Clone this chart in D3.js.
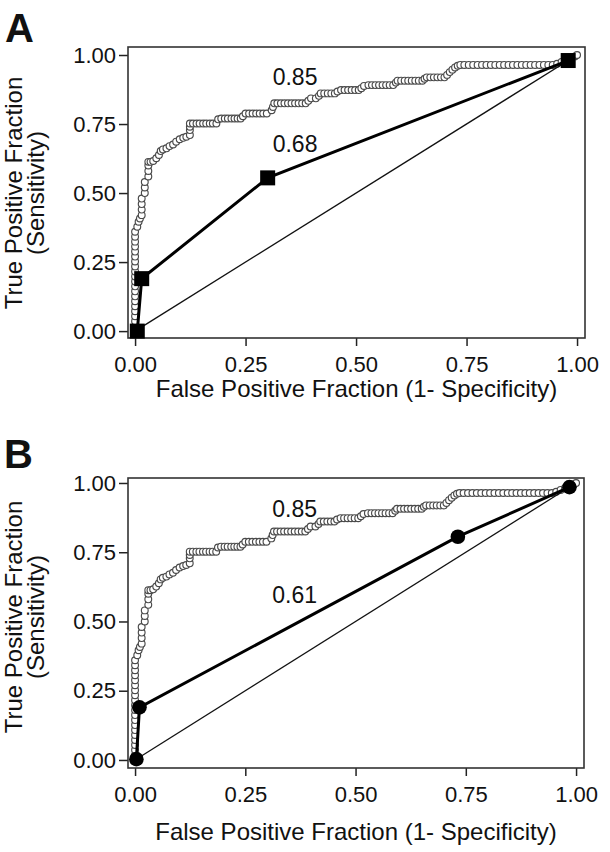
<!DOCTYPE html>
<html><head><meta charset="utf-8">
<script src="https://cdn.jsdelivr.net/npm/d3@7"></script>
<style>body{margin:0;background:#fff} svg{display:block}</style>
</head><body>
<svg id="c" width="610" height="852"></svg>
<script>
// ---------------- data ----------------
const xTicks = [0, 0.25, 0.5, 0.75, 1];
const yTicks = [0, 0.25, 0.5, 0.75, 1];
const panelLetters = ["A", "B"];

const rocEmpirical = [
  [0,0],[0,0.018],[0,0.036],[0,0.054],[0,0.072],[0,0.09],[0,0.108],[0,0.126],[0,0.144],[0,0.162],
  [0,0.18],[0,0.198],[0,0.216],[0,0.234],[0,0.252],[0,0.27],[0,0.288],[0,0.306],[0,0.324],[0,0.342],[0,0.36],
  [0.005,0.378],[0.008,0.396],[0.011,0.408],
  [0.015,0.42],[0.015,0.44],[0.015,0.46],[0.015,0.48],
  [0.022,0.50],[0.022,0.52],[0.022,0.54],
  [0.03,0.56],[0.03,0.58],[0.03,0.60],[0.03,0.613],[0.035,0.613],
  [0.041,0.616],[0.048,0.626],[0.054,0.638],[0.058,0.652],[0.063,0.658],[0.071,0.662],[0.078,0.670],
  [0.086,0.676],[0.093,0.686],[0.101,0.695],[0.109,0.700],[0.116,0.704],[0.124,0.710],[0.124,0.728],[0.124,0.740],
  [0.124,0.752],[0.131,0.752],[0.139,0.752],[0.146,0.752],[0.154,0.752],[0.161,0.752],[0.169,0.752],[0.176,0.752],[0.184,0.752],
  [0.188,0.767],
  [0.195,0.770],[0.203,0.770],[0.210,0.770],[0.218,0.770],[0.225,0.770],[0.232,0.770],[0.239,0.770],
  [0.244,0.778],
  [0.250,0.788],[0.258,0.788],[0.266,0.788],[0.274,0.788],[0.282,0.788],[0.290,0.788],[0.298,0.788],
  [0.309,0.800],[0.312,0.812],[0.315,0.825],
  [0.322,0.825],[0.330,0.825],[0.338,0.825],[0.346,0.825],[0.354,0.825],[0.362,0.825],[0.370,0.825],[0.378,0.825],[0.386,0.825],
  [0.392,0.834],[0.398,0.843],[0.409,0.843],[0.416,0.852],[0.420,0.861],
  [0.428,0.861],[0.436,0.861],[0.444,0.861],[0.452,0.861],
  [0.458,0.868],
  [0.466,0.873],[0.474,0.873],[0.482,0.873],[0.490,0.873],[0.498,0.873],[0.506,0.873],
  [0.512,0.880],[0.518,0.888],
  [0.528,0.891],[0.536,0.891],[0.544,0.891],[0.552,0.891],[0.560,0.891],[0.568,0.891],[0.576,0.891],[0.584,0.891],
  [0.590,0.900],[0.594,0.907],
  [0.602,0.907],[0.610,0.907],[0.618,0.907],[0.626,0.907],[0.634,0.907],[0.642,0.907],[0.650,0.907],
  [0.655,0.914],[0.660,0.919],
  [0.668,0.919],[0.676,0.919],[0.684,0.919],[0.692,0.919],[0.700,0.919],
  [0.706,0.928],[0.712,0.938],[0.718,0.947],[0.724,0.955],[0.730,0.961],[0.736,0.964],
  [0.745,0.964],[0.755,0.964],[0.765,0.964],[0.775,0.964],[0.785,0.964],[0.795,0.964],[0.805,0.964],
  [0.815,0.964],[0.825,0.964],[0.835,0.964],[0.845,0.964],[0.855,0.964],[0.865,0.964],[0.875,0.964],
  [0.885,0.964],[0.895,0.964],[0.905,0.964],[0.915,0.964],[0.925,0.964],[0.935,0.964],[0.945,0.964],
  [0.955,0.968],[0.965,0.975],[0.975,0.982],[0.985,0.990],[0.995,0.995],[1.0,1.0]
];

// model ROC points
const modelA_FPF = [0.005, 0.015, 0.30, 0.98];
const modelA_TPF = [0.0, 0.19, 0.555, 0.98];
const modelB_FPF = [0.003, 0.01, 0.732, 0.985];
const modelB_TPF = [0.003, 0.19, 0.806, 0.985];

// chance diagonal
const chanceFPF = [0, 0.98];
const chanceTPF = [0, 0.98];

// AUC labels
const aucLabelsA = ["0.85", "0.68"];
const aucLabelsB = ["0.85", "0.61"];

// ---------------- drawing ----------------
const FONT = "'Liberation Sans', Arial, Helvetica, sans-serif";
const svg = d3.select("#c");

function drawPanel(cfg) {
  const x = d3.scaleLinear().domain(cfg.xDom).range([cfg.left, cfg.right]);
  const y = d3.scaleLinear().domain(cfg.yDom).range([cfg.bottom, cfg.top]);
  const g = svg.append("g");

  // axes
  const fmt = d3.format(".2f");
  const yAx = g.append("g").attr("transform", `translate(${cfg.left},0)`)
    .call(d3.axisLeft(y).tickValues(yTicks).tickFormat(fmt).tickSize(9).tickPadding(3).tickSizeOuter(0));
  const xAx = g.append("g").attr("transform", `translate(0,${cfg.bottom})`)
    .call(d3.axisBottom(x).tickValues(xTicks).tickFormat(fmt).tickSize(8).tickPadding(10).tickSizeOuter(0));
  [yAx, xAx].forEach(a => {
    a.select(".domain").remove();
    a.selectAll(".tick line").attr("stroke", "#222").attr("stroke-width", 1.5);
    a.selectAll(".tick text").attr("fill", "#111").style("font-family", FONT).style("font-size", "22px");
  });

  // frame
  g.append("rect").attr("x", cfg.left).attr("y", cfg.top)
    .attr("width", cfg.right - cfg.left).attr("height", cfg.bottom - cfg.top)
    .attr("fill", "none").attr("stroke", "#333").attr("stroke-width", 1.6);

  // empirical ROC circles
  g.append("g").selectAll("circle").data(rocEmpirical).join("circle")
    .attr("cx", d => x(d[0])).attr("cy", d => y(d[1])).attr("r", 3.4)
    .attr("fill", "#fff").attr("stroke", "#4a4a4a").attr("stroke-width", 1.15);

  // chance line
  const line = d3.line().x(d => x(d[0])).y(d => y(d[1]));
  g.append("path").datum(d3.zip(chanceFPF, chanceTPF)).attr("d", line)
    .attr("fill", "none").attr("stroke", "#111").attr("stroke-width", 1.3);

  // model line
  const pts = d3.zip(cfg.fpf, cfg.tpf);
  g.append("path").datum(pts).attr("d", line)
    .attr("fill", "none").attr("stroke", "#000").attr("stroke-width", 3);
  if (cfg.marker === "square") {
    g.append("g").selectAll("rect").data(pts).join("rect")
      .attr("x", d => x(d[0]) - 7.5).attr("y", d => y(d[1]) - 7.5)
      .attr("width", 15).attr("height", 15).attr("fill", "#000");
  } else {
    g.append("g").selectAll("circle").data(pts).join("circle")
      .attr("cx", d => x(d[0])).attr("cy", d => y(d[1])).attr("r", 7.3).attr("fill", "#000");
  }

  // AUC labels
  g.append("g").selectAll("text").data(cfg.labels).join("text")
    .attr("x", x(0.362)).attr("y", (d, i) => y(cfg.labelY[i]))
    .attr("text-anchor", "middle").style("font-family", FONT).style("font-size", "23px").attr("fill", "#111")
    .text(d => d);

  // axis titles
  g.append("text").attr("x", (cfg.left + cfg.right) / 2).attr("y", cfg.xTitleY)
    .attr("text-anchor", "middle").style("font-family", FONT).style("font-size", "24px").attr("fill", "#111")
    .text("False Positive Fraction (1- Specificity)");
  const cy = cfg.yTitleC;
  g.append("text").attr("transform", `translate(22,${cy}) rotate(-90)`)
    .attr("text-anchor", "middle").style("font-family", FONT).style("font-size", "24px").attr("fill", "#111")
    .text("True Positive Fraction");
  g.append("text").attr("transform", `translate(44,${cy}) rotate(-90)`)
    .attr("text-anchor", "middle").style("font-family", FONT).style("font-size", "24px").attr("fill", "#111")
    .text("(Sensitivity)");

  // panel letter
  svg.append("text").attr("x", cfg.letterX).attr("y", cfg.letterY)
    .style("font-family", FONT).style("font-size", "40px").style("font-weight", "bold").attr("fill", "#111")
    .text(cfg.letter);
}

drawPanel({
  left: 128, right: 585, top: 47, bottom: 338,
  xDom: [-0.016, 1.018], yDom: [-0.025, 1.029],
  fpf: modelA_FPF, tpf: modelA_TPF, marker: "square",
  labels: aucLabelsA, labelY: [0.891, 0.649],
  xTitleY: 397, yTitleC: 193, letter: panelLetters[0], letterX: 5, letterY: 42
});
drawPanel({
  left: 128, right: 584, top: 478, bottom: 768,
  xDom: [-0.016, 1.018], yDom: [-0.029, 1.018],
  fpf: modelB_FPF, tpf: modelB_TPF, marker: "circle",
  labels: aucLabelsB, labelY: [0.877, 0.567],
  xTitleY: 840, yTitleC: 617, letter: panelLetters[1], letterX: 4, letterY: 468
});
</script>
</body></html>
